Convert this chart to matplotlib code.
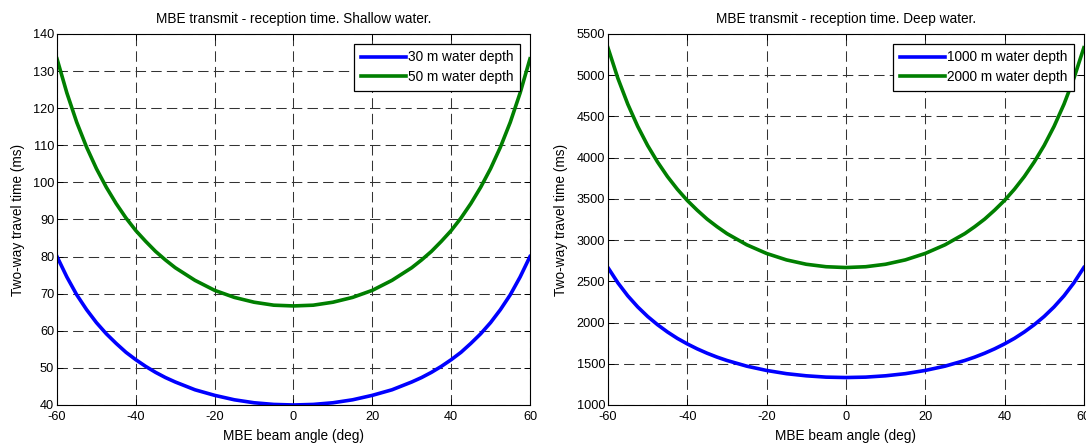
import matplotlib
matplotlib.use("Agg")
import matplotlib.pyplot as plt

plt.rcParams['font.family'] = ['Liberation Sans', 'DejaVu Sans']
plt.rcParams['axes.unicode_minus'] = False

angles = [-60, -57.5, -55, -52.5, -50, -47.5, -45, -42.5, -40, -37.5, -35, -32.5, -30,
          -25, -20, -15, -10, -5, 0, 5, 10, 15, 20, 25,
          30, 32.5, 35, 37.5, 40, 42.5, 45, 47.5, 50, 52.5, 55, 57.5, 60]

t30 = [80.0, 74.5, 69.7, 65.7, 62.2, 59.2, 56.6, 54.2, 52.2, 50.4, 48.8, 47.4, 46.2,
       44.1, 42.6, 41.4, 40.6, 40.15, 40.0, 40.15, 40.6, 41.4, 42.6, 44.1,
       46.2, 47.4, 48.8, 50.4, 52.2, 54.2, 56.6, 59.2, 62.2, 65.7, 69.7, 74.5, 80.0]
t50 = [133.3, 124.1, 116.2, 109.5, 103.7, 98.7, 94.3, 90.4, 87.0, 84.1, 81.4, 79.1, 77.0,
       73.6, 70.9, 69.0, 67.7, 66.9, 66.7, 66.9, 67.7, 69.0, 70.9, 73.6,
       77.0, 79.1, 81.4, 84.1, 87.0, 90.4, 94.3, 98.7, 103.7, 109.5, 116.2, 124.1, 133.3]
t1000 = [2667, 2482, 2324, 2190, 2074, 1974, 1886, 1808, 1741, 1681, 1628, 1581, 1540,
         1471, 1419, 1380, 1354, 1338, 1333, 1338, 1354, 1380, 1419, 1471,
         1540, 1581, 1628, 1681, 1741, 1808, 1886, 1974, 2074, 2190, 2324, 2482, 2667]
t2000 = [5333, 4963, 4649, 4380, 4148, 3948, 3771, 3617, 3481, 3363, 3255, 3163, 3079,
         2943, 2838, 2760, 2707, 2677, 2667, 2677, 2707, 2760, 2838, 2943,
         3079, 3163, 3255, 3363, 3481, 3617, 3771, 3948, 4148, 4380, 4649, 4963, 5333]

xticks = [-60, -40, -20, 0, 20, 40, 60]
yticks_shallow = [40, 50, 60, 70, 80, 90, 100, 110, 120, 130, 140]
yticks_deep = [1000, 1500, 2000, 2500, 3000, 3500, 4000, 4500, 5000, 5500]

titles = ["MBE transmit - reception time. Shallow water.",
          "MBE transmit - reception time. Deep water."]
labels_shallow = ["30 m water depth", "50 m water depth"]
labels_deep = ["1000 m water depth", "2000 m water depth"]

fig = plt.figure(figsize=(10.86, 4.43), dpi=100)
ax1 = fig.add_axes([0.0525, 0.0858, 0.4355, 0.8375])
ax2 = fig.add_axes([0.5598, 0.0858, 0.4382, 0.8375])

fs = 9.2
fs_title = 9.8
blue = '#0000ff'
green = '#007f00'

for ax, ya, yb, labs, yt, title in [
        (ax1, t30, t50, labels_shallow, yticks_shallow, titles[0]),
        (ax2, t1000, t2000, labels_deep, yticks_deep, titles[1])]:
    ax.plot(angles, ya, color=blue, lw=2.6, label=labs[0])
    ax.plot(angles, yb, color=green, lw=2.6, label=labs[1])
    ax.set_xlim(-60, 60)
    ax.set_ylim(yt[0], yt[-1])
    ax.set_xticks(xticks)
    ax.set_yticks(yt)
    ax.grid(True, color='#333333', linestyle=(0, (10, 5)), linewidth=0.75)
    ax.tick_params(direction='in', top=True, right=True, labelsize=fs, length=4,
                   width=0.7)
    ax.tick_params(axis='x', pad=4)
    ax.tick_params(axis='y', pad=2)
    for s in ax.spines.values():
        s.set_linewidth(0.8)
    ax.set_title(title, fontsize=fs_title, pad=8)
    ax.set_xlabel("MBE beam angle (deg)", fontsize=fs_title, labelpad=5)
    ax.set_ylabel("Two-way travel time (ms)", fontsize=fs_title, labelpad=6)
    leg = ax.legend(loc='upper right', fontsize=fs_title, fancybox=False, framealpha=1,
                    edgecolor='black', handlelength=3.3, handletextpad=0.15,
                    borderpad=0.5, labelspacing=0.4, borderaxespad=0.7)
    leg.get_frame().set_linewidth(0.9)

fig.savefig("out.png", dpi=100)
